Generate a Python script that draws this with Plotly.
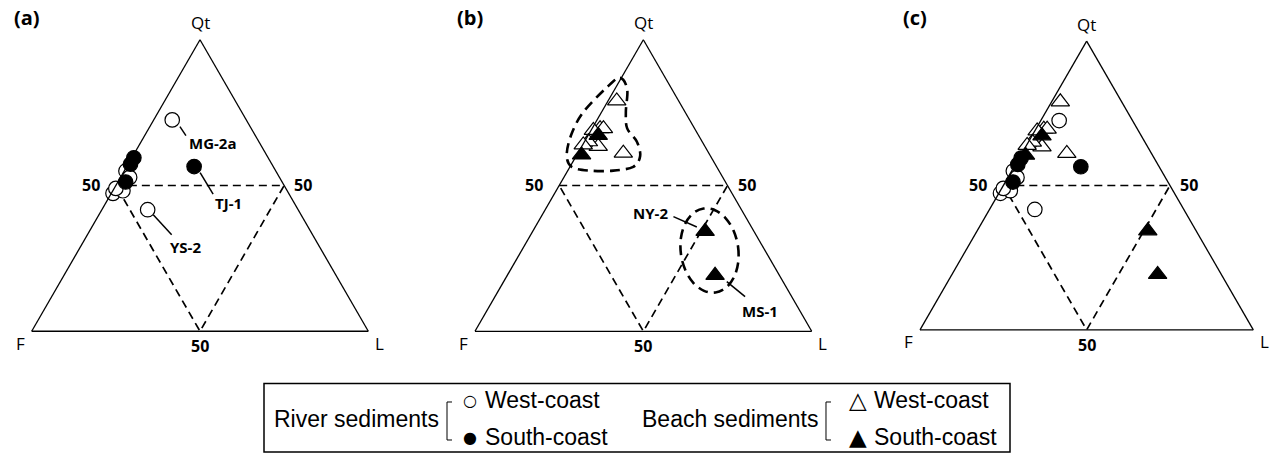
import numpy as np
import plotly.graph_objects as go

W, H = 1275, 460

# ---------------- data (percent: Qt, F, L) ----------------
river_west_qt = [72.5, 41.7, 55.0, 52.8, 47.3, 48.2, 49.0]
river_west_f = [22.0, 44.7, 44.5, 44.5, 52.2, 48.8, 50.5]
river_west_l = [5.5, 13.6, 0.5, 2.7, 0.5, 3.0, 0.5]
river_west_id = ["MG-2a", "YS-2", "", "", "", "", ""]

river_south_qt = [56.5, 57.3, 59.5, 51.2]
river_south_f = [23.5, 42.0, 39.9, 46.5]
river_south_l = [20.0, 0.7, 0.6, 2.3]
river_south_id = ["TJ-1", "", "", ""]

beach_west_qt = [79.0, 69.5, 69.5, 68.9, 63.4, 65.0, 63.9, 61.1]
beach_west_f = [18.4, 28.1, 27.1, 30.4, 31.7, 33.8, 35.9, 25.4]
beach_west_l = [2.6, 2.4, 3.4, 0.7, 4.9, 1.2, 0.2, 13.5]

beach_south_qt = [67.2, 60.5, 34.3, 19.2]
beach_south_f = [29.8, 38.1, 14.5, 19.1]
beach_south_l = [3.0, 1.4, 51.2, 61.7]
beach_south_id = ["", "", "NY-2", "MS-1"]

apex_labels = ["Qt", "F", "L"]
mid_value = 50
panel_letters = ["(a)", "(b)", "(c)"]

# ---------------- layout geometry (pixels) ----------------
panels = {
    "ternary": dict(x0=31.7, w=336.6),
    "ternary2": dict(x0=475.0, w=336.7),
    "ternary3": dict(x0=920.0, w=333.3),
}
YC = 185.5
SQ3 = np.sqrt(3) / 2


def geom(p):
    g = panels[p]
    h = g["w"] * SQ3
    return g["x0"], YC - h / 2, g["w"], h


def tpix(p, qt, l):
    x0, y0, w, h = geom(p)
    a, c = qt / 100.0, l / 100.0
    return x0 + w * (c + a / 2), y0 + h * (1 - a)


def pp(x, y):
    return x / W, 1 - y / H


fig = go.Figure()

open_circle = dict(symbol="circle", size=14.5, color="white", line=dict(color="black", width=1.2))
full_circle = dict(symbol="circle", size=14.5, color="black", line=dict(color="black", width=1.2))
open_tri = dict(symbol="triangle-up", size=16, color="white", line=dict(color="black", width=1.2))
full_tri = dict(symbol="triangle-up", size=16, color="black", line=dict(color="black", width=1.2))

dash_style = dict(color="black", width=1.7, dash="8px,5px")

for sp in panels:
    fig.add_trace(go.Scatterternary(
        a=[mid_value, mid_value, 0, mid_value],
        b=[mid_value, 0, mid_value, mid_value],
        c=[0, mid_value, mid_value, 0],
        mode="lines", line=dash_style, subplot=sp, hoverinfo="skip"))


def add_pts(sp, qt, f, l, marker):
    fig.add_trace(go.Scatterternary(a=qt, b=f, c=l, mode="markers", marker=marker,
                                    subplot=sp, cliponaxis=False))


add_pts("ternary", river_west_qt, river_west_f, river_west_l, open_circle)
add_pts("ternary", river_south_qt, river_south_f, river_south_l, full_circle)
add_pts("ternary2", beach_west_qt, beach_west_f, beach_west_l, open_tri)
add_pts("ternary2", beach_south_qt, beach_south_f, beach_south_l, full_tri)
add_pts("ternary3", river_west_qt, river_west_f, river_west_l, open_circle)
add_pts("ternary3", river_south_qt, river_south_f, river_south_l, full_circle)
add_pts("ternary3", beach_west_qt, beach_west_f, beach_west_l, open_tri)
add_pts("ternary3", beach_south_qt, beach_south_f, beach_south_l, full_tri)

axis_style = dict(showticklabels=False, ticks="", showgrid=False, showline=True,
                  linecolor="black", linewidth=1.3, title=dict(text=""))
layout_ternaries = {}
for sp in panels:
    x0, y0, w, h = geom(sp)
    layout_ternaries[sp] = dict(
        domain=dict(x=[x0 / W, (x0 + w) / W], y=[1 - (YC + 165) / H, 1 - (YC - 165) / H]),
        sum=100, bgcolor="rgba(0,0,0,0)",
        aaxis=axis_style, baxis=axis_style, caxis=axis_style)

annotations = []
shapes = []
lab_font = dict(family="Open Sans", size=17, color="black")
num_font = dict(family="Open Sans", size=16, color="black", weight="bold")
id_font = dict(family="Open Sans", size=15, color="black", weight="bold")


def ann(x, y, text, font, xanchor="center", yanchor="middle"):
    px, py = pp(x, y)
    annotations.append(dict(x=px, y=py, xref="paper", yref="paper", text=text, showarrow=False,
                            font=font, xanchor=xanchor, yanchor=yanchor))


for sp, letter in zip(panels, panel_letters):
    x0, y0, w, h = geom(sp)
    ann(x0 - 5, 17, letter, dict(family="Open Sans", size=20, color="black", weight="bold"))
    ann(x0 + w / 2, y0 - 17, apex_labels[0], lab_font)
    ann(x0 - 11, y0 + h + 12, apex_labels[1], lab_font)
    ann(x0 + w + 11, y0 + h + 12, apex_labels[2], lab_font)
    lx, ly = tpix(sp, mid_value, 0)
    ann(lx - 14, ly, str(mid_value), num_font, xanchor="right")
    rx, ry = tpix(sp, mid_value, mid_value)
    ann(rx + 8, ry, str(mid_value), num_font, xanchor="left")
    bx, by = tpix(sp, 0, mid_value)
    ann(bx, by + 15, str(mid_value), num_font)

# sample call-outs: (panel, qt list, l list, ids, index, text offset, line start, line end)
callouts = [
    ("ternary", river_west_qt, river_west_l, river_west_id, 0, (40, 23), (7.7, 6.7), (13.7, 15.7)),
    ("ternary", river_west_qt, river_west_l, river_west_id, 1, (38, 37), (5.6, 5.0), (24, 25)),
    ("ternary", river_south_qt, river_south_l, river_south_id, 0, (34, 36), (6, 6), (19, 27.6)),
    ("ternary2", beach_south_qt, beach_south_l, beach_south_id, 2, (-55, -18), (-31.7, -14.7), (-8.3, -4.3)),
    ("ternary2", beach_south_qt, beach_south_l, beach_south_id, 3, (45, 36), (11.7, 6.3), (30, 21.3)),
]
for sp, qts, ls, ids, i, toff, s0, s1 in callouts:
    mx, my = tpix(sp, qts[i], ls[i])
    ann(mx + toff[0], my + toff[1], ids[i], id_font)
    xa, ya = pp(mx + s0[0], my + s0[1])
    xb, yb = pp(mx + s1[0], my + s1[1])
    shapes.append(dict(type="line", xref="paper", yref="paper", x0=xa, y0=ya, x1=xb, y1=yb,
                       line=dict(color="black", width=1.5)))


# dashed group outlines in panel (b) (ternary coordinates of the hand-drawn curve)
def smooth_closed(pts):
    n = len(pts)
    d = "M{:.5f},{:.5f}".format(*pts[0])
    for i in range(n):
        p0, p1, p2, p3 = pts[(i - 1) % n], pts[i], pts[(i + 1) % n], pts[(i + 2) % n]
        c1 = (p1[0] + (p2[0] - p0[0]) / 6, p1[1] + (p2[1] - p0[1]) / 6)
        c2 = (p2[0] - (p3[0] - p1[0]) / 6, p2[1] - (p3[1] - p1[1]) / 6)
        d += " C{:.5f},{:.5f} {:.5f},{:.5f} {:.5f},{:.5f}".format(*c1, *c2, *p2)
    return d + " Z"


outline_qt = [86.9, 83.0, 75.2, 69.6, 65.1, 60.1, 56.4, 55.1, 55.1, 56.4, 60.7, 67.9, 75.2, 83.6]
outline_l = [-0.4, 3.7, 7.2, 10.4, 15.5, 19.0, 18.8, 13.5, 6.6, 0.5, -3.1, -5.2, -5.4, -2.7]
up_pts = [pp(*tpix("ternary2", q, l)) for q, l in zip(outline_qt, outline_l)]
outline_line = dict(color="black", width=2.6, dash="10px,6px")
shapes.append(dict(type="path", xref="paper", yref="paper", path=smooth_closed(up_pts), line=outline_line))

ecx, ecy = tpix("ternary2", 27.7, 55.8)
t = np.linspace(0, 2 * np.pi, 16, endpoint=False)
ang = np.deg2rad(-8)
ex = 28.8 * np.cos(t)
ey = 42.4 * np.sin(t)
el_pts = [pp(ecx + x * np.cos(ang) - y * np.sin(ang), ecy + x * np.sin(ang) + y * np.cos(ang))
          for x, y in zip(ex, ey)]
shapes.append(dict(type="path", xref="paper", yref="paper", path=smooth_closed(el_pts), line=outline_line))

# ---------------- legend box ----------------
bx0, by0 = pp(264, 383.5)
bx1, by1 = pp(1010, 452)
shapes.append(dict(type="rect", xref="paper", yref="paper", x0=bx0, y0=by0, x1=bx1, y1=by1,
                   line=dict(color="black", width=1.5)))
leg_font = dict(family="Liberation Sans, Arial", size=23, color="black")
row1, row2, rmid = 400, 437, 419
groups = [
    ("River sediments", 441, 447, 470, 483, ("\u25CB", "\u25CF"), 16),
    ("Beach sediments", 820, 826, 858, 872, ("\u25B3", "\u25B2"), 23),
]
for name, tx, brx, sx, lx, syms, ssize in groups:
    ann(tx, rmid, name, leg_font, xanchor="right")
    p_top = pp(brx, 402)
    p_bot = pp(brx, 440)
    p_tr = pp(brx + 5, 402)
    p_br = pp(brx + 5, 440)
    path = "M{:.5f},{:.5f} L{:.5f},{:.5f} L{:.5f},{:.5f} L{:.5f},{:.5f}".format(
        *p_tr, *p_top, *p_bot, *p_br)
    shapes.append(dict(type="path", xref="paper", yref="paper", path=path,
                       line=dict(color="black", width=1)))
    sym_font = dict(family="DejaVu Sans", size=ssize, color="black")
    ann(sx, row1, syms[0], sym_font)
    ann(sx, row2, syms[1], sym_font)
    ann(lx, row1, "West-coast", leg_font, xanchor="left")
    ann(lx, row2, "South-coast", leg_font, xanchor="left")

fig.update_layout(
    width=W, height=H, margin=dict(l=0, r=0, t=0, b=0),
    paper_bgcolor="white", plot_bgcolor="white", showlegend=False,
    annotations=annotations, shapes=shapes, **layout_ternaries)

fig.write_html("out.html", config={"displayModeBar": False},
               post_script="document.body.style.margin='0px';document.body.style.overflow='hidden';")
